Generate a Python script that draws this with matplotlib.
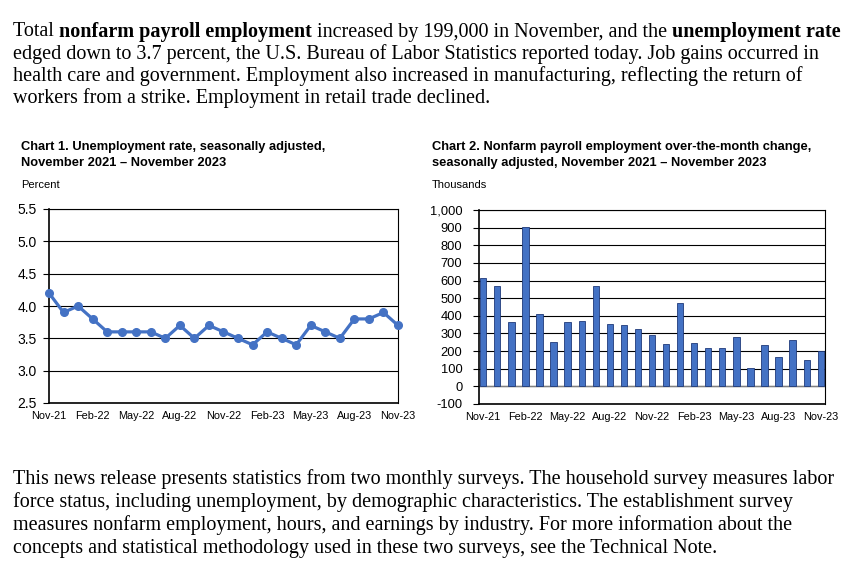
import matplotlib
matplotlib.use("Agg")
import matplotlib.pyplot as plt
import numpy as np

# data
months = ["Nov-21", "Dec-21", "Jan-22", "Feb-22", "Mar-22", "Apr-22", "May-22",
          "Jun-22", "Jul-22", "Aug-22", "Sep-22", "Oct-22", "Nov-22", "Dec-22",
          "Jan-23", "Feb-23", "Mar-23", "Apr-23", "May-23", "Jun-23", "Jul-23",
          "Aug-23", "Sep-23", "Oct-23", "Nov-23"]
unemp_rate = [4.2, 3.9, 4.0, 3.8, 3.6, 3.6, 3.6, 3.6, 3.5, 3.7, 3.5, 3.7, 3.6,
              3.5, 3.4, 3.6, 3.5, 3.4, 3.7, 3.6, 3.5, 3.8, 3.8, 3.9, 3.7]
payroll_chg = [612, 568, 364, 904, 413, 254, 364, 368, 568, 352, 350, 324, 290,
               239, 472, 248, 217, 217, 281, 105, 236, 165, 262, 150, 199]

para_top = [
    [("Total ", False), ("nonfarm payroll employment", True),
     (" increased by 199,000 in November, and the ", False),
     ("unemployment rate", True)],
    [("edged down to 3.7 percent, the U.S. Bureau of Labor Statistics reported today. Job gains occurred in", False)],
    [("health care and government. Employment also increased in manufacturing, reflecting the return of", False)],
    [("workers from a strike. Employment in retail trade declined.", False)],
]
para_bottom = [
    "This news release presents statistics from two monthly surveys. The household survey measures labor",
    "force status, including unemployment, by demographic characteristics. The establishment survey",
    "measures nonfarm employment, hours, and earnings by industry. For more information about the",
    "concepts and statistical methodology used in these two surveys, see the Technical Note.",
]

W, H = 866, 570
blue = "#4472C4"
serif = "Liberation Serif"
sans = "Liberation Sans"

fig = plt.figure(figsize=(W / 100, H / 100), dpi=100)
fig.patch.set_facecolor("white")
renderer = fig.canvas.get_renderer()


def px(x, y):
    return x / W, 1 - y / H


def runs_line(x, y, runs, size):
    # draw text pieces one after another, bold where asked
    cur = x
    for s, bold in runs:
        t = fig.text(cur / W, 1 - y / H, s, fontsize=size, family=serif,
                     weight="bold" if bold else "normal", va="center", ha="left")
        bb = t.get_window_extent(renderer)
        cur += bb.width


fs_para = 14.5
for i, line in enumerate(para_top):
    runs_line(13, 32 + i * 22, line, fs_para)
for i, line in enumerate(para_bottom):
    runs_line(13, 479 + i * 23, [(line, False)], fs_para)

# titles
fs_title = 9.3
fig.text(*px(21, 147), "Chart 1. Unemployment rate, seasonally adjusted,",
         fontsize=fs_title, family=sans, weight="bold", va="center")
fig.text(*px(21, 163), "November 2021 \u2013 November 2023",
         fontsize=fs_title, family=sans, weight="bold", va="center")
fig.text(*px(21, 185), "Percent", fontsize=8, family=sans, va="center")

fig.text(*px(432, 147), "Chart 2. Nonfarm payroll employment over-the-month change,",
         fontsize=fs_title, family=sans, weight="bold", va="center")
fig.text(*px(432, 163), "seasonally adjusted, November 2021 \u2013 November 2023",
         fontsize=fs_title, family=sans, weight="bold", va="center")
fig.text(*px(432, 185), "Thousands", fontsize=8, family=sans, va="center")

x = np.arange(len(months))
tick_idx = list(range(0, len(months), 3))

# chart 1
ax1 = fig.add_axes([49 / W, 1 - 403 / H, 349 / W, 194 / H])
ax1.plot(x, unemp_rate, color=blue, lw=2.3, marker="o", ms=5.5, clip_on=False, zorder=3)
ax1.set_xlim(0, 24)
ax1.set_ylim(2.5, 5.5)
ax1.set_yticks(np.arange(2.5, 5.51, 0.5))
ax1.set_yticklabels([f"{v:.1f}" for v in np.arange(2.5, 5.51, 0.5)])
ax1.set_xticks(tick_idx)
ax1.set_xticklabels([months[i] for i in tick_idx])
ax1.grid(axis="y", color="black", lw=0.8)
ax1.set_axisbelow(True)

# chart 2
ax2 = fig.add_axes([479 / W, 1 - 404 / H, 346 / W, 194 / H])
ax2.bar(x, payroll_chg, width=0.45, color=blue, edgecolor="#1F3A7A", lw=0.6, zorder=3)
ax2.set_xlim(-0.3, 24.3)
ax2.set_ylim(-100, 1000)
yt = np.arange(-100, 1001, 100)
ax2.set_yticks(yt)
ax2.set_yticklabels([f"{v:,}" for v in yt])
ax2.set_xticks(tick_idx)
ax2.set_xticklabels([months[i] for i in tick_idx])
ax2.grid(axis="y", color="black", lw=0.8)
ax2.axhline(0, color="#808080", lw=1.0, zorder=2)
ax2.set_axisbelow(True)

for ax, ysize, ypad in ((ax1, 10, 5), (ax2, 9.3, 8)):
    for sp in ax.spines.values():
        sp.set_color("black")
        sp.set_linewidth(0.8)
    ax.spines["left"].set_linewidth(1.2)
    ax.spines["bottom"].set_linewidth(1.2)
    ax.tick_params(axis="y", length=4, width=0.8, pad=ypad, labelsize=ysize, labelfontfamily=sans)
    ax.tick_params(axis="x", length=0, pad=6, labelsize=7.8, labelfontfamily=sans)

fig.savefig("out.png", dpi=100)
